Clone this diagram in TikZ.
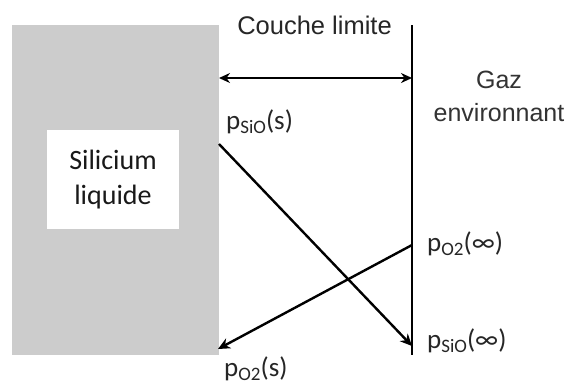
\documentclass[tikz,border=0pt]{standalone}
\usepackage{fontspec}
\setmainfont{Carlito}
\newfontfamily\arialf{Liberation Sans}
\usetikzlibrary{arrows.meta}
\newcommand{\plab}[2]{{\fontsize{27}{27}\selectfont p}{\fontsize{19}{19}\selectfont\raisebox{-4pt}{#1}}{\fontsize{27}{27}\selectfont(#2)}}
\tikzset{
  lab/.style={anchor=base west, inner sep=0pt, text=black!85},
  flow/.style={line width=2.4pt, -{Stealth[length=12pt,width=11pt]}},
  wall/.style={line width=1.8pt},
}
\begin{document}
\begin{tikzpicture}[x=1pt,y=-1pt]
\useasboundingbox[fill=white] (0,0) rectangle (572,389);
% liquid silicon block
\node (liq) [fill=black!20, inner sep=0pt, minimum width=207pt, minimum height=330pt] at (115.5,190) {};
\node (box) [fill=white, inner sep=0pt, minimum width=132pt, minimum height=99pt, align=center,
  font=\fontsize{28}{35}\selectfont, text=black!90] at (113,179.5) {Silicium\\liquide};
% boundary line
\coordinate (wt) at (412,25);
\coordinate (wb) at (412,355);
\draw[wall] (wt) -- (wb);
% boundary layer arrow
\coordinate (bl) at (219,78);
\coordinate (br) at (412,78);
\draw[line width=2.4pt, {Stealth[length=11pt,width=10pt]}-{Stealth[length=11pt,width=10pt]}] (bl) -- (br);
\node (couche) [anchor=base, inner sep=0pt, font=\arialf\fontsize{25.5}{25.5}\selectfont, text=black!85] at (314.5,34) {Couche limite};
\node (gaz) [anchor=base, inner sep=0pt, align=center, font=\arialf\fontsize{25}{33}\selectfont, text=black!80] at (499,121) {Gaz\\environnant};
% flows
\coordinate (s1) at (219,144);
\coordinate (e1) at (412,346);
\draw[flow] (s1) -- (e1);
\coordinate (s2) at (412,245);
\coordinate (e2) at (218,349);
\draw[flow] (s2) -- (e2);
% labels
\node (psios) [lab] at (226,129) {\plab{SiO}{s}};
\node (po2inf) [lab] at (427,251) {\plab{O2}{∞}};
\node (psioinf) [lab] at (427,348) {\plab{SiO}{∞}};
\node (po2s) [lab] at (224,376) {\plab{O2}{s}};
\end{tikzpicture}
\end{document}
